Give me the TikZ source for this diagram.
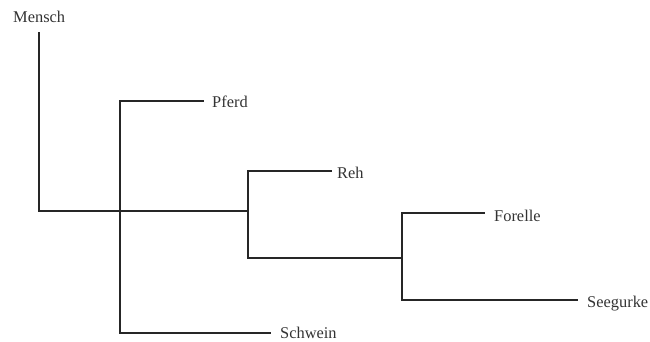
\documentclass[tikz,border=0pt]{standalone}
\usepackage{fontspec}
\setmainfont{Liberation Serif}
\begin{document}
\begin{tikzpicture}[x=1pt,y=-1pt,
  branch/.style={draw=black!85, line width=1.8pt, line cap=rect, line join=miter},
  leaf/.style={anchor=base west, inner sep=0pt, text=black!80, font=\fontsize{16.4}{18}\selectfont}]
\useasboundingbox (0,0) rectangle (650,342);
% labels
\node[leaf] (mensch) at (13,23) {Mensch};
\node[leaf] (pferd) at (212,107.5) {Pferd};
\node[leaf] (schwein) at (280,338.5) {Schwein};
\node[leaf] (reh) at (337,178) {Reh};
\node[leaf] (forelle) at (494,221) {Forelle};
\node[leaf] (seegurke) at (587,307.5) {Seegurke};
% line ends and junctions
\coordinate (mTip) at (39,33);
\coordinate (root) at (39,211);
\coordinate (pTop) at (120,101);
\coordinate (pEnd) at (203,101);
\coordinate (sBot) at (120,333);
\coordinate (sEnd) at (270,333);
\coordinate (rj) at (248,211);
\coordinate (rTop) at (248,171);
\coordinate (rEnd) at (331,171);
\coordinate (rBot) at (248,258);
\coordinate (fj) at (402,258);
\coordinate (fTop) at (402,213);
\coordinate (fEnd) at (484,213);
\coordinate (gBot) at (402,300);
\coordinate (gEnd) at (577,300);
% branches
\draw[branch] (mTip) -- (root) -- (rj);
\draw[branch] (pEnd) -- (pTop) -- (sBot) -- (sEnd);
\draw[branch] (rEnd) -- (rTop) -- (rBot) -- (fj);
\draw[branch] (fEnd) -- (fTop) -- (gBot) -- (gEnd);
\end{tikzpicture}
\end{document}
